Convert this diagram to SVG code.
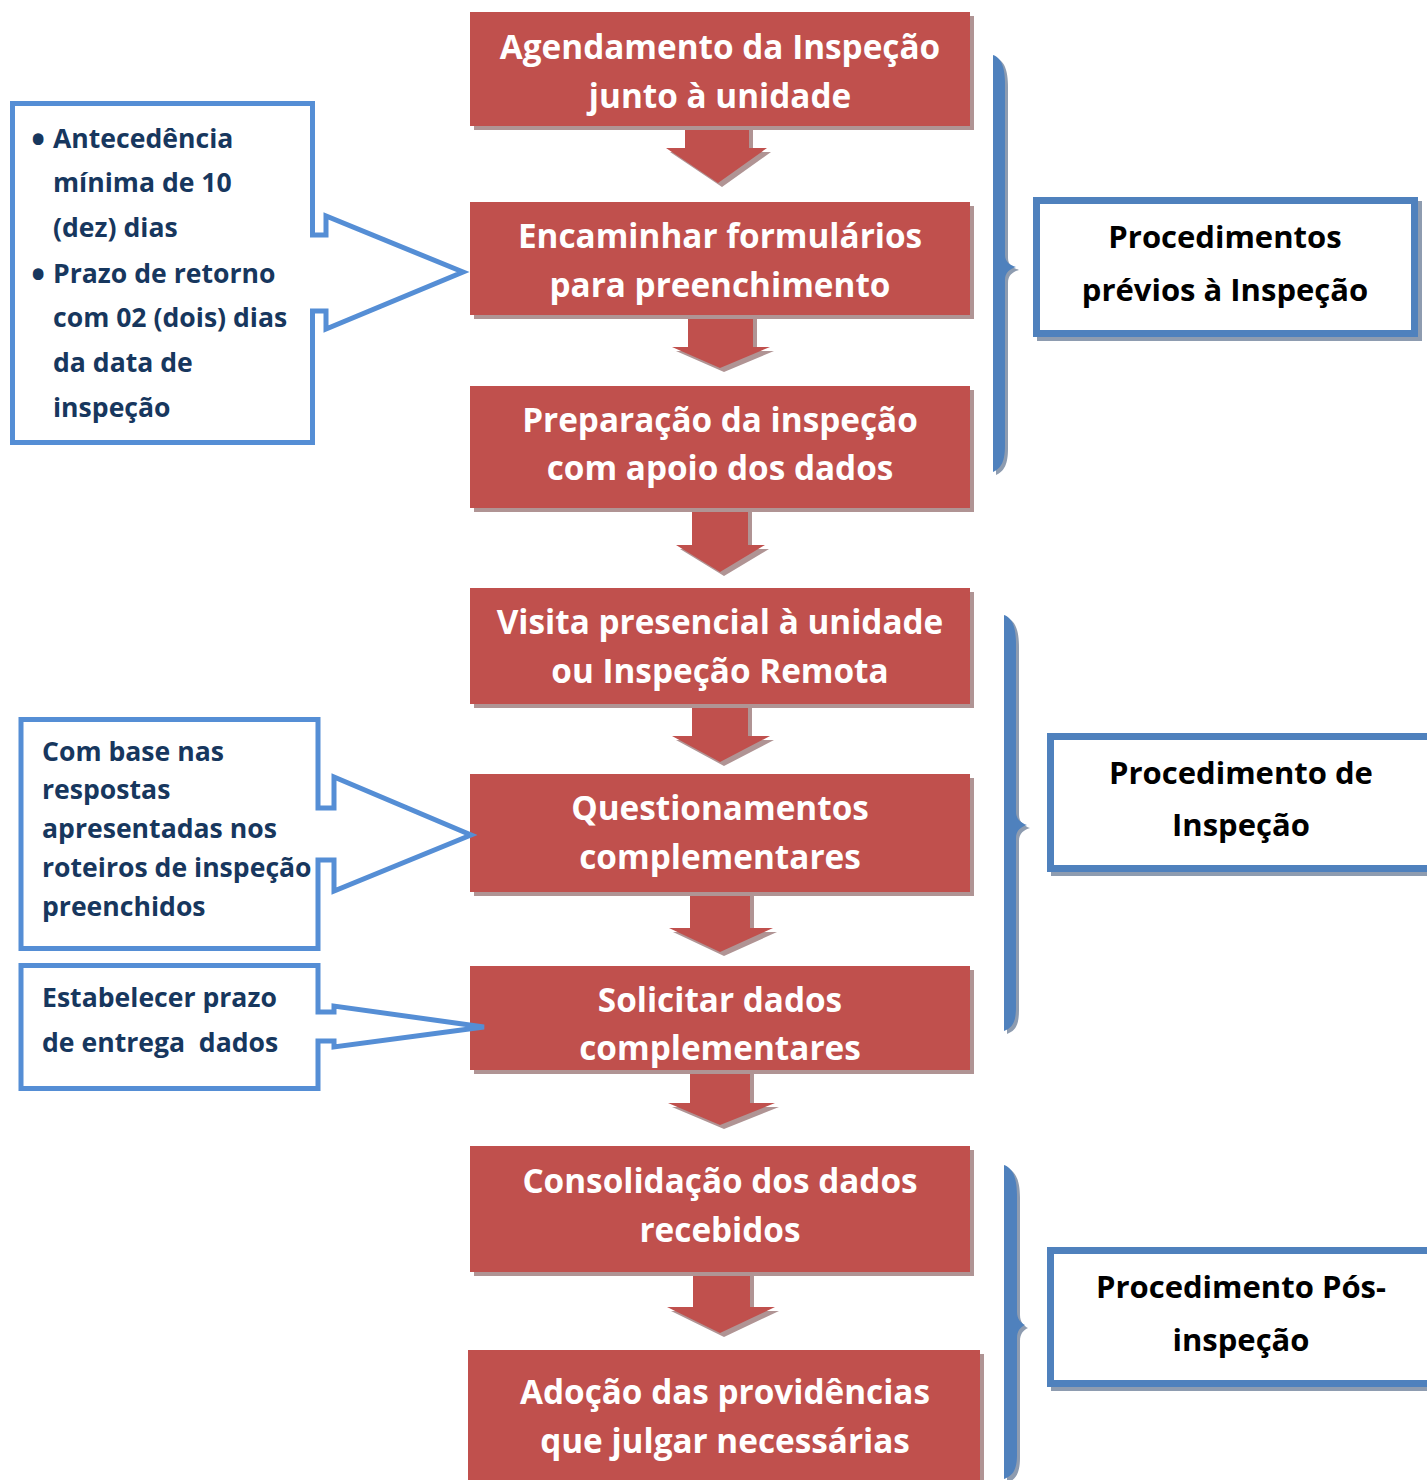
<svg xmlns="http://www.w3.org/2000/svg" width="1427" height="1480" viewBox="0 0 1427 1480">
<style>
.box{fill:#C0504D}
.sh{fill:#B09494}
.rt{font-family:"Open Sans","DejaVu Sans",sans-serif;font-weight:bold;font-size:33.3px;fill:#FFFFFF;text-anchor:middle}
.ct{font-family:"Open Sans","DejaVu Sans",sans-serif;font-weight:bold;font-size:26.6px;fill:#17375E;white-space:pre}
.bul{font-family:"Open Sans","DejaVu Sans",sans-serif;font-weight:bold;font-size:38px;fill:#17375E}
.lt{font-family:"Open Sans","DejaVu Sans",sans-serif;font-weight:bold;font-size:31px;fill:#000000;text-anchor:middle}
.call{fill:#FFFFFF;stroke:#558ED5;stroke-width:5;stroke-linejoin:miter}
.frame{fill:#FFFFFF;stroke:#4F81BD;stroke-width:7}
.frsh{fill:none;stroke:#8E9CB0;stroke-width:7}
.brace{fill:#4F81BD}
.brsh{fill:#8E9CB0}
</style>
<rect width="1427" height="1480" fill="#FFFFFF"/>

<g id="connectors">
  <path class="sh" d="M688,126 H753 V152 H771 L722,187 L670,152 H688 Z"/>
  <path class="box" d="M685,122 H749 V148 H767 L718,183 L666,148 H685 Z"/>
  <path class="sh" d="M692,315 H757 V351 H774 L724,372 L676,351 H692 Z"/>
  <path class="box" d="M688,311 H753 V347 H770 L720,368 L672,347 H688 Z"/>
  <path class="sh" d="M696,508 H752 V549 H769 L724,576 L680,549 H696 Z"/>
  <path class="box" d="M692,504 H748 V545 H765 L720,572 L676,545 H692 Z"/>
  <path class="sh" d="M696,704 H752 V740 H774 L724,766 L676,740 H696 Z"/>
  <path class="box" d="M692,700 H748 V736 H770 L720,762 L672,736 H692 Z"/>
  <path class="sh" d="M694,892 H754 V932 H777 L724,956 L673,932 H694 Z"/>
  <path class="box" d="M690,888 H750 V928 H773 L720,952 L669,928 H690 Z"/>
  <path class="sh" d="M694,1070 H754 V1107 H779 L724,1129 L672,1107 H694 Z"/>
  <path class="box" d="M690,1066 H750 V1103 H775 L720,1125 L668,1103 H690 Z"/>
  <path class="sh" d="M697,1272 H754 V1311 H779 L724,1337 L671,1311 H697 Z"/>
  <path class="box" d="M693,1268 H750 V1307 H775 L720,1333 L667,1307 H693 Z"/>
</g>

<g id="n1">
  <rect class="sh" x="474" y="16" width="500" height="114"/>
  <rect class="box" x="470" y="12" width="500" height="114"/>
  <text class="rt" x="720" y="59">Agendamento da Inspeção</text>
  <text class="rt" x="720" y="108">junto à unidade</text>
</g>
<g id="n2">
  <rect class="sh" x="474" y="206" width="500" height="113"/>
  <rect class="box" x="470" y="202" width="500" height="113"/>
  <text class="rt" x="720" y="248">Encaminhar formulários</text>
  <text class="rt" x="720" y="297">para preenchimento</text>
</g>
<g id="n3">
  <rect class="sh" x="474" y="390" width="500" height="122"/>
  <rect class="box" x="470" y="386" width="500" height="122"/>
  <text class="rt" x="720" y="432">Preparação da inspeção</text>
  <text class="rt" x="720" y="480">com apoio dos dados</text>
</g>
<g id="n4">
  <rect class="sh" x="474" y="592" width="500" height="116"/>
  <rect class="box" x="470" y="588" width="500" height="116"/>
  <text class="rt" x="720" y="634">Visita presencial à unidade</text>
  <text class="rt" x="720" y="683">ou Inspeção Remota</text>
</g>
<g id="n5">
  <rect class="sh" x="474" y="778" width="500" height="118"/>
  <rect class="box" x="470" y="774" width="500" height="118"/>
  <text class="rt" x="720" y="820">Questionamentos</text>
  <text class="rt" x="720" y="869">complementares</text>
</g>
<g id="n6">
  <rect class="sh" x="474" y="970" width="500" height="104"/>
  <rect class="box" x="470" y="966" width="500" height="104"/>
  <text class="rt" x="720" y="1012">Solicitar dados</text>
  <text class="rt" x="720" y="1060">complementares</text>
</g>
<g id="n7">
  <rect class="sh" x="474" y="1150" width="500" height="126"/>
  <rect class="box" x="470" y="1146" width="500" height="126"/>
  <text class="rt" x="720" y="1193">Consolidação dos dados</text>
  <text class="rt" x="720" y="1242">recebidos</text>
</g>
<g id="n8">
  <rect class="sh" x="472" y="1354" width="512" height="130"/>
  <rect class="box" x="468" y="1350" width="512" height="130"/>
  <text class="rt" x="725" y="1404">Adoção das providências</text>
  <text class="rt" x="725" y="1453">que julgar necessárias</text>
</g>

<g id="c1">
  <path class="call" d="M12.5,103.5 H312.5 V235 H326 V216 L463,272 L326,329 V311 H312.5 V442.5 H12.5 Z"/>
  <text class="bul" x="31" y="153">•</text>
  <text class="ct" x="53" y="148">Antecedência</text>
  <text class="ct" x="53" y="192">mínima de 10</text>
  <text class="ct" x="53" y="237">(dez) dias</text>
  <text class="bul" x="31" y="288">•</text>
  <text class="ct" x="53" y="283">Prazo de retorno</text>
  <text class="ct" x="53" y="327">com 02 (dois) dias</text>
  <text class="ct" x="53" y="372">da data de</text>
  <text class="ct" x="53" y="417">inspeção</text>
</g>
<g id="c2">
  <path class="call" d="M21,719.5 H318 V808 H334 V777 L471,835 L334,891 V860 H318 V948.5 H21 Z"/>
  <text class="ct" x="42" y="761">Com base nas</text>
  <text class="ct" x="42" y="799">respostas</text>
  <text class="ct" x="42" y="838">apresentadas nos</text>
  <text class="ct" x="42" y="877">roteiros de inspeção</text>
  <text class="ct" x="42" y="916">preenchidos</text>
</g>
<g id="c3">
  <path class="call" d="M21,965.5 H318 V1012 H334 V1006 L484,1027 L334,1047 V1041 H318 V1088.5 H21 Z"/>
  <text class="ct" x="42" y="1007">Estabelecer prazo</text>
  <text class="ct" x="42" y="1052">de entrega  dados</text>
</g>

<g id="b1">
  <path class="brsh" d="M996,58 C1004,61 1008,69 1008,88 V258 C1008,265 1013,268 1019,270 C1013,272 1008,275 1008,283 V448 C1008,465 1004,471 996,475 Z"/>
  <path class="brace" d="M993,55 C1001,58 1005,66 1005,85 V255 C1005,262 1010,265 1016,267 C1010,269 1005,272 1005,280 V445 C1005,462 1001,468 993,472 Z"/>
</g>
<g id="b2">
  <path class="brsh" d="M1007,618 C1015,621 1019,629 1019,648 V815 C1019,822 1024,826 1030,828 C1024,830 1019,833 1019,841 V1010 C1019,1026 1015,1031 1007,1034 Z"/>
  <path class="brace" d="M1004,615 C1012,618 1016,626 1016,645 V812 C1016,819 1021,823 1027,825 C1021,827 1016,830 1016,838 V1007 C1016,1023 1012,1028 1004,1031 Z"/>
</g>
<g id="b3">
  <path class="brsh" d="M1007,1168 C1015,1171 1020,1179 1020,1198 V1315 C1020,1322 1024,1326 1028,1328 C1024,1330 1020,1333 1020,1341 V1458 C1020,1474 1015,1480 1007,1483 Z"/>
  <path class="brace" d="M1004,1165 C1012,1168 1017,1176 1017,1195 V1312 C1017,1319 1021,1323 1025,1325 C1021,1327 1017,1330 1017,1338 V1455 C1017,1471 1012,1476 1004,1479 Z"/>
</g>

<g id="r1">
  <rect class="frsh" x="1040.5" y="204.5" width="378" height="133"/>
  <rect class="frame" x="1036.5" y="200.5" width="378" height="133"/>
  <text class="lt" x="1225" y="248">Procedimentos</text>
  <text class="lt" x="1225" y="301">prévios à Inspeção</text>
</g>
<g id="r2">
  <rect class="frsh" x="1054.5" y="740.5" width="400" height="132"/>
  <rect class="frame" x="1050.5" y="736.5" width="400" height="132"/>
  <text class="lt" x="1241" y="784">Procedimento de</text>
  <text class="lt" x="1241" y="836">Inspeção</text>
</g>
<g id="r3">
  <rect class="frsh" x="1054.5" y="1254.5" width="400" height="133"/>
  <rect class="frame" x="1050.5" y="1250.5" width="400" height="133"/>
  <text class="lt" x="1241" y="1298">Procedimento Pós-</text>
  <text class="lt" x="1241" y="1351">inspeção</text>
</g>
</svg>
